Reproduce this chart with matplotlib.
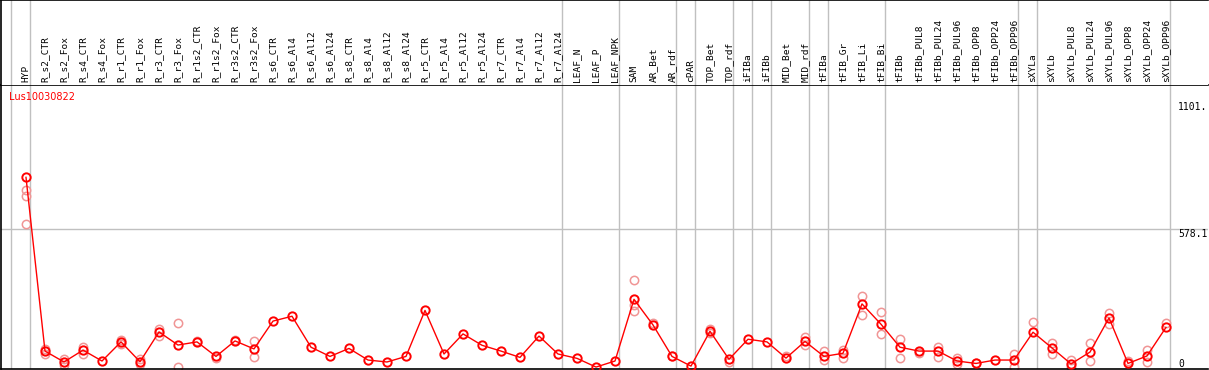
import numpy as np
import matplotlib.pyplot as plt

# категории (образцы)
samples = ['HYP', 'R_s2_CTR', 'R_s2_Fox', 'R_s4_CTR', 'R_s4_Fox', 'R_r1_CTR', 'R_r1_Fox',
           'R_r3_CTR', 'R_r3_Fox', 'R_r1s2_CTR', 'R_r1s2_Fox', 'R_r3s2_CTR', 'R_r3s2_Fox',
           'R_s6_CTR', 'R_s6_Al4', 'R_s6_Al12', 'R_s6_Al24', 'R_s8_CTR', 'R_s8_Al4',
           'R_s8_Al12', 'R_s8_Al24', 'R_r5_CTR', 'R_r5_Al4', 'R_r5_Al12', 'R_r5_Al24',
           'R_r7_CTR', 'R_r7_Al4', 'R_r7_Al12', 'R_r7_Al24', 'LEAF_N', 'LEAF_P', 'LEAF_NPK',
           'SAM', 'AR_Bet', 'AR_rdf', 'cPAR', 'TOP_Bet', 'TOP_rdf', 'iFIBa', 'iFIBb',
           'MID_Bet', 'MID_rdf', 'tFIBa', 'tFIB_Gr', 'tFIB_Li', 'tFIB_Bi', 'tFIBb',
           'tFIBb_PUL8', 'tFIBb_PUL24', 'tFIBb_PUL96', 'tFIBb_OPP8', 'tFIBb_OPP24',
           'tFIBb_OPP96', 'sXYLa', 'sXYLb', 'sXYLb_PUL8', 'sXYLb_PUL24', 'sXYLb_PUL96',
           'sXYLb_OPP8', 'sXYLb_OPP24', 'sXYLb_OPP96']

# размеры групп образцов (для вертикальных разделителей)
group_sizes = [1, 28, 3, 3, 1, 2, 1, 1, 2, 1, 3, 7, 1, 7]

# среднее значение экспрессии
expr_mean = [790, 72, 27, 76, 31, 110, 28, 151, 97, 110, 50, 114, 81, 196, 216, 88, 50,
             83, 35, 27, 50, 240, 60, 143, 96, 72, 46, 134, 60, 42, 6, 31, 286, 180, 50,
             10, 154, 38, 121, 110, 43, 112, 50, 63, 267, 183, 88, 72, 72, 31, 21, 35, 35,
             150, 85, 19, 68, 209, 21, 52, 170]

# повторности (индекс образца, значение)
rep_idx = [0, 0, 0, 1, 1, 2, 2, 3, 3, 5, 5, 6, 6, 7, 7, 8, 8, 9, 10, 11, 12, 12,
           32, 32, 32, 33, 34, 36, 36, 37, 40, 41, 41, 42, 42, 43, 43, 44, 44, 45, 45,
           46, 46, 47, 48, 48, 49, 49, 50, 52, 52, 53, 54, 54, 55, 55, 56, 56, 57, 57,
           58, 59, 59, 60]
rep_val = [738, 713, 596, 82, 60, 40, 13, 90, 60, 118, 101, 40, 19, 164, 134, 187, 5,
           112, 43, 116, 114, 46,
           366, 264, 239, 187, 52, 164, 145, 27, 52, 131, 96, 71, 35, 76, 42, 300, 220,
           232, 141, 123, 45, 65, 90, 46, 43, 19, 21, 61, 7, 191, 107, 60, 35, 5, 107,
           31, 228, 184, 30, 75, 26, 187]

title = 'Lus10030822'
y_marks = [1101, 578.1, 0]
y_mark_text = ['1101.', '578.1', '0']

W, H = 1209, 370
x = np.arange(len(samples))
px = 1 / 19.0  # ширина одного пикселя в единицах категорий

fig = plt.figure(figsize=(W / 100, H / 100), dpi=100)
ax = fig.add_axes([1 / W, 1 / H, 1207 / W, 284 / H])
hd = fig.add_axes([1 / W, 285 / H, 1207 / W, 85 / H])

xlim = ((1 - 26) / 19, (1208 - 26) / 19)
for a in (ax, hd):
    a.set_xlim(*xlim)
    a.set_xticks([])
    a.set_yticks([])
    a.spines['right'].set_visible(False)
    for s in ('left', 'top', 'bottom'):
        a.spines[s].set_color('black')
        a.spines[s].set_linewidth(1.2)
hd.spines['bottom'].set_visible(False)
ax.set_ylim(-2, 1171.5)

# вертикальные разделители групп
bounds = np.concatenate([[-1], np.cumsum(group_sizes) - 1]) + 4 * px
for b in bounds:
    for a in (ax, hd):
        a.axvline(b, color='#c0c0c0', lw=1.0, zorder=0)
ax.axhline(578.1, color='#c0c0c0', lw=1.0, zorder=0)

# подписи образцов
for i, name in enumerate(samples):
    hd.text(x[i], 0.03, name, rotation=90, ha='center', va='bottom',
            family='DejaVu Sans Mono', fontsize=6.8, transform=hd.get_xaxis_transform())

# подписи оси значений справа
xr = (1178 - 26) / 19
for v, t in zip(y_marks, y_mark_text):
    ax.text(xr, v, t, ha='left', va='bottom' if v == 0 else 'top',
            family='DejaVu Sans Mono', fontsize=7)

ax.text((9 - 26) / 19, 0.958, title, color='red', fontsize=7,
        transform=ax.get_xaxis_transform(), ha='left', va='center')

ax.plot(rep_idx, rep_val, 'o', ms=6, mfc='none', mec='#f09595', mew=1.1, zorder=2)
ax.plot(x, expr_mean, '-', color='red', lw=1.0, zorder=3)
ax.plot(x, expr_mean, 'o', ms=6, mfc='none', mec='red', mew=1.4, zorder=4)

fig.savefig('out.png', dpi=100)
